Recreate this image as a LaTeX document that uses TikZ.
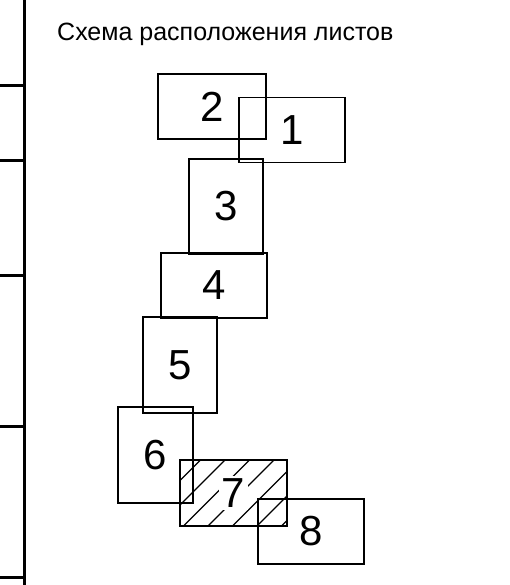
\documentclass[tikz,border=0pt]{standalone}
\usepackage{fontspec}
\setmainfont{Liberation Sans}
\usetikzlibrary{calc}

\begin{document}
\begin{tikzpicture}[x=1pt,y=-1pt,
    sheet/.style={draw,line width=1.3pt,inner sep=0pt,font=\fontsize{42}{42}\selectfont},
    wide/.style={sheet,minimum width=106pt,minimum height=65pt},
    tall/.style={sheet,minimum width=74pt,minimum height=96pt}]
  \useasboundingbox (0,0) rectangle (509,585);
  % frame
  \draw[line width=3.5pt] (24.5,0) -- (24.5,585);
  \foreach \y in {86,161,275,426,577}{\draw[line width=3pt] (0,\y) -- (24.5,\y);}
  \node[anchor=base west,inner sep=0pt,font=\fontsize{25}{25}\selectfont] (title) at (57,41) {Схема расположения листов};
  % sheets
  \node[wide,minimum width=108pt] (s2) at (212,106.5) {2};
  \node[wide] (s1) at (292,130) {1};
  \node[tall,minimum height=95pt] (s3) at (226,206.5) {3};
  \node[wide] (s4) at (214,285.5) {4};
  \node[tall] (s5) at (180,365) {5};
  \node[tall,minimum width=75pt] (s6) at (155.5,455) {6};
  \node[wide,minimum width=107pt,minimum height=66pt] (s7) at (233.5,493) {};
  \node[wide] (s8) at (311,531.5) {8};
  % hatching of sheet 7
  \begin{scope}
    \clip (s7.south west) rectangle (s7.north east);
    \foreach \t in {176,200.5,...,350}{\draw[line width=1.2pt] (\t,460) ++(40,-40) -- ++(-120,120);}
  \end{scope}
  \node[fill=white,inner sep=2.5pt,font=\fontsize{42}{42}\selectfont] (n7) at (s7.center) {7};
\end{tikzpicture}
\end{document}
